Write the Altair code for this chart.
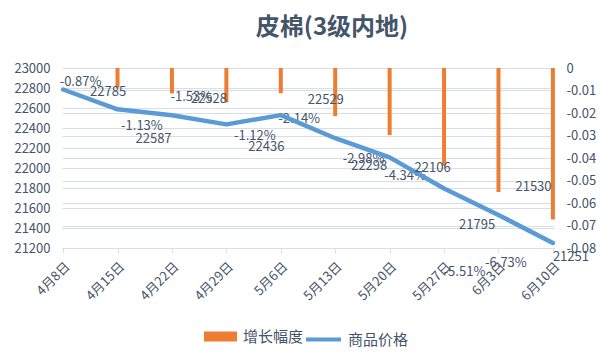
import altair as alt
import pandas as pd

# ---- data ----
dates = ["4月8日", "4月15日", "4月22日", "4月29日", "5月6日",
         "5月13日", "5月20日", "5月27日", "6月3日", "6月10日"]
prices = [22785, 22587, 22528, 22436, 22529, 22298, 22106, 21795, 21530, 21251]
pcts = [None, -0.0087, -0.0113, -0.0153, -0.0112, -0.0214,
        -0.0298, -0.0434, -0.0551, -0.0673]
pct_labels = ["", "-0.87%", "-1.13%", "-1.53%", "-1.12%", "-2.14%",
              "-2.98%", "-4.34%", "-5.51%", "-6.73%"]
left_ticks = list(range(21200, 23001, 200))
right_ticks = [0, -0.01, -0.02, -0.03, -0.04, -0.05, -0.06, -0.07, -0.08]

# ---- label placement offsets (pixels, style only) ----
price_dx = [45, 36, 37, 40, 45, 34, 43, 33, 35, 18]
price_dy = [2, 30, -16, 23, -15, 28, 11, 36, -28, 14]
pct_dx = [0, -37, -30, -35, -26, -36, -26, -39, -34, -47]
pct_dy = [0, -6, 33, -5, 43, 3, 24, 10, 80, 44]

df = pd.DataFrame({
    "date": dates, "price": prices, "pct": pcts, "pct_label": pct_labels,
    "pdx": price_dx, "pdy": price_dy, "cdx": pct_dx, "cdy": pct_dy,
})

FONT = "Noto Sans CJK SC"
TXT = "#44546A"
GRID = "#D9DEE6"
PLOT_W, PLOT_H = 492, 180
LEFT_DOM = [21200, 23000]
RIGHT_DOM = [-0.08, 0]

x = alt.X("date:N", sort=dates, title=None,
          scale=alt.Scale(type="point", padding=0.02),
          axis=alt.Axis(labelAngle=-45, labelFontSize=13, labelColor=TXT,
                        labelFont=FONT, domainColor=GRID, tickColor=GRID,
                        tickSize=5, labelPadding=7, grid=False,
                        labelOverlap=False))

right_axis = alt.Axis(orient="right", values=right_ticks,
                      labelExpr="datum.value == 0 ? '0' : '-0.0' + round(abs(datum.value) * 100)",
                      labelFontSize=13, labelColor=TXT, labelFont=FONT,
                      domain=False, ticks=False, labelPadding=12,
                      grid=True, gridColor=GRID, labelOverlap=False, title=None)
left_axis = alt.Axis(orient="left", values=left_ticks, format="d",
                     labelFontSize=13, labelColor=TXT, labelFont=FONT,
                     domain=False, ticks=False, labelPadding=12,
                     grid=True, gridColor=GRID, labelOverlap=False, title=None)
right_scale = alt.Scale(domain=RIGHT_DOM, nice=False, zero=False)
left_scale = alt.Scale(domain=LEFT_DOM, nice=False, zero=False)

base = alt.Chart(df)

bars = base.transform_filter("datum.pct != null").transform_calculate(
    s1="'增长幅度'").mark_bar(size=4).encode(
    x=x,
    y=alt.Y("pct:Q", title=None, scale=right_scale, axis=right_axis),
    y2=alt.datum(0),
    fill=alt.Fill("s1:N", scale=alt.Scale(range=["#ED7D31"]),
                  legend=alt.Legend(orient="none", legendX=142, legendY=252,
                                    title=None, padding=0,
                                    symbolType="M-1,-0.3H1V0.3H-1Z",
                                    symbolSize=1089, symbolStrokeWidth=0,
                                    labelFontSize=15, labelFont=FONT,
                                    labelColor=TXT, labelOffset=6)),
)

# vertical label offsets converted from pixels into the axis units
r_per_px = (RIGHT_DOM[1] - RIGHT_DOM[0]) / PLOT_H
l_per_px = (LEFT_DOM[1] - LEFT_DOM[0]) / PLOT_H

pct_text = base.transform_filter("datum.pct != null").transform_calculate(
    ly=f"datum.pct - datum.cdy * {r_per_px}"
).mark_text(
    fontSize=13, font=FONT, color=TXT, align="center", baseline="middle"
).encode(
    x=x,
    y=alt.Y("ly:Q", title=None, scale=right_scale, axis=right_axis),
    xOffset=alt.XOffset("cdx:Q", scale=None),
    text="pct_label:N",
)

line = base.transform_calculate(s2="'商品价格'").mark_line(
    strokeWidth=4.5, strokeCap="round", strokeJoin="round").encode(
    x=x,
    y=alt.Y("price:Q", title=None, scale=left_scale, axis=left_axis),
    stroke=alt.Stroke("s2:N", scale=alt.Scale(range=["#5B9BD5"]),
                      legend=alt.Legend(orient="none", legendX=242, legendY=252,
                                        title=None, padding=0,
                                        symbolType="stroke", symbolSize=1225,
                                        symbolStrokeWidth=4,
                                        labelFontSize=15, labelFont=FONT,
                                        labelColor=TXT, labelOffset=5)),
)

price_text = base.transform_calculate(
    ly=f"datum.price - datum.pdy * {l_per_px}"
).mark_text(
    fontSize=13, font=FONT, color=TXT, align="center", baseline="middle"
).encode(
    x=x,
    y=alt.Y("ly:Q", title=None, scale=left_scale, axis=left_axis),
    xOffset=alt.XOffset("pdx:Q", scale=None),
    text=alt.Text("price:Q", format="d"),
)

right = alt.layer(bars, pct_text)
left = alt.layer(line, price_text)

chart = alt.layer(right, left).resolve_scale(
    y="independent", fill="independent", stroke="independent"
).properties(
    width=PLOT_W, height=PLOT_H,
    padding={"left": 54, "top": 60, "right": 48, "bottom": 106},
    autosize=alt.AutoSizeParams(type="none"),
    title=alt.Title("皮棉(3级内地)", fontSize=24, font=FONT, fontWeight="bold",
                    color="#44546A", dx=24, offset=22, anchor="middle"),
    background="white",
).configure_view(stroke=None)

chart.save("out.html", embed_options={"renderer": "svg", "actions": False})
